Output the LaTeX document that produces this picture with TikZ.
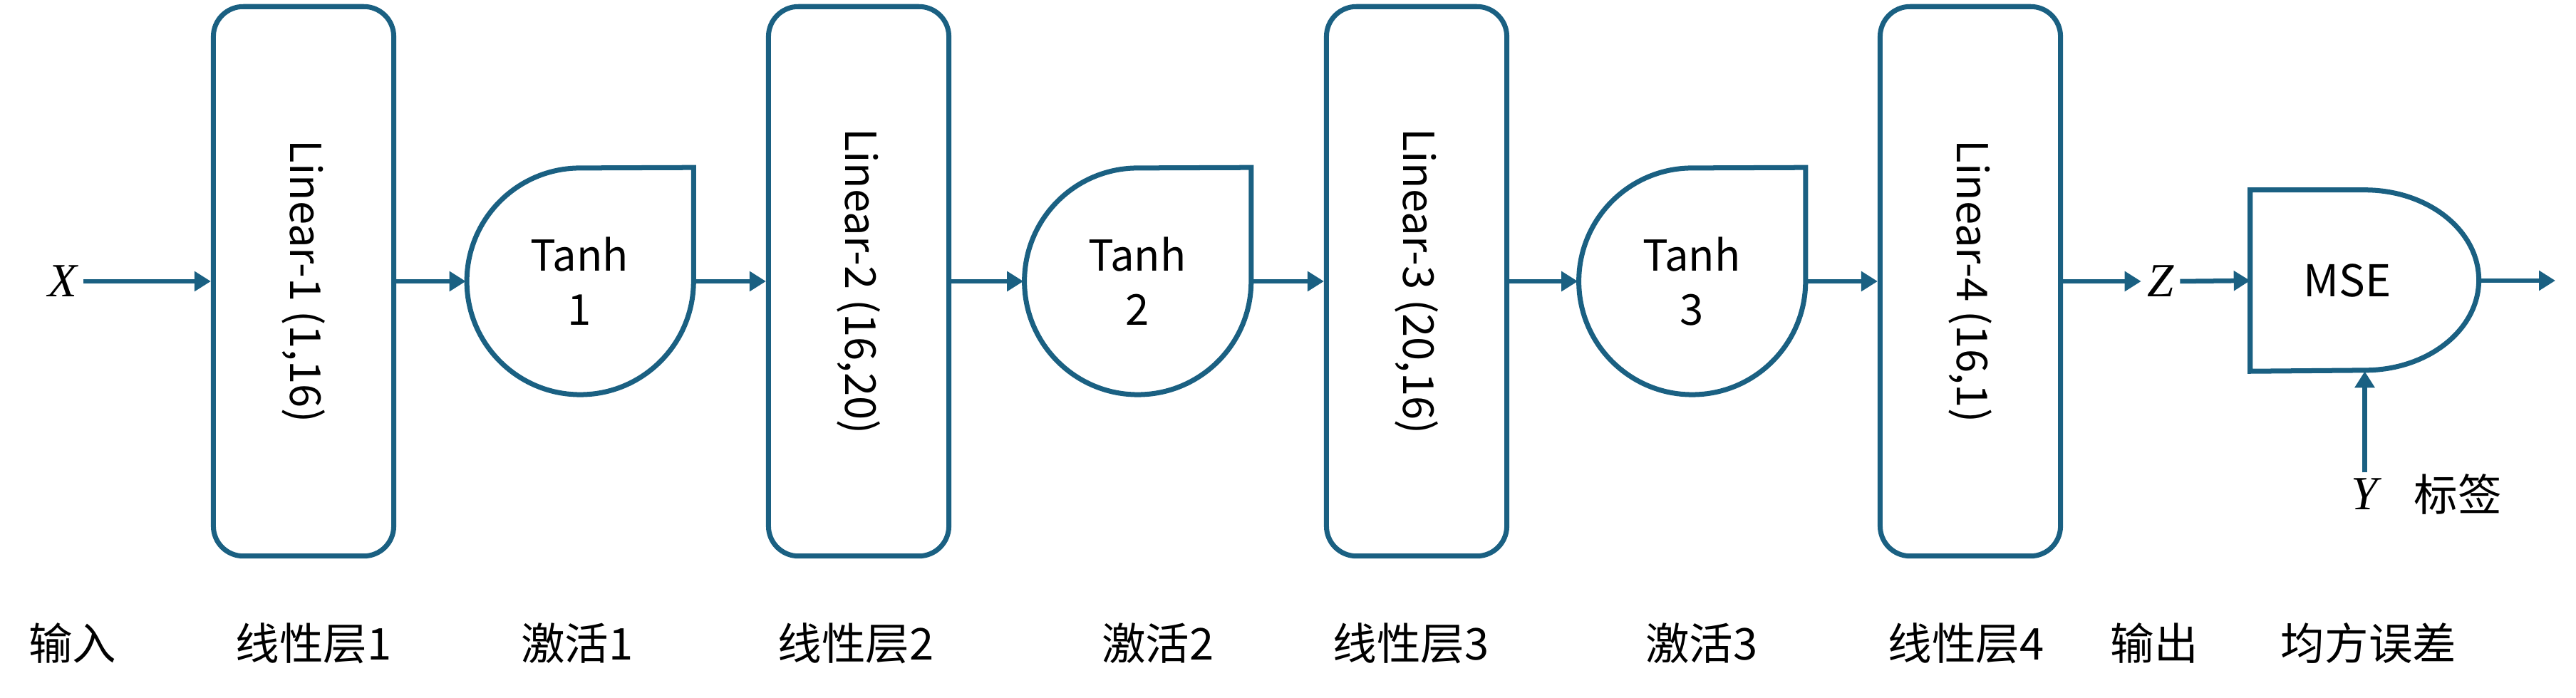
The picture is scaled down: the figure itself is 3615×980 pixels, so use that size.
\documentclass[tikz,border=0pt]{standalone}
\usepackage{fontspec}
\setmainfont{Noto Sans CJK SC}
\newfontfamily\varfont{Liberation Serif}
\usetikzlibrary{arrows.meta}
\definecolor{ink}{RGB}{26,96,130}
\begin{document}
\begin{tikzpicture}[x=0.01cm,y=0.01cm,
  shp/.style={draw=ink, line width=0.07cm, line join=miter},
  linbox/.style={shp, rounded corners=0.42cm, minimum width=2.53cm, minimum height=7.71cm, inner sep=0pt},
  lintext/.style={rotate=-90, font=\fontsize{17}{20}\selectfont, inner sep=0pt},
  tanhnode/.style={circle, minimum size=3.18cm, inner sep=0pt, align=center, font=\fontsize{17}{21.6}\selectfont},
  arr/.style={draw=ink, line width=0.065cm, -{Triangle[width=0.27cm,length=0.23cm]}},
  mathlbl/.style={inner sep=0.08cm, font=\varfont\itshape\fontsize{19}{20}\selectfont},
  lbl/.style={font=\fontsize{17.5}{20}\selectfont, inner sep=0pt},
]
\useasboundingbox (0,0) rectangle (3615,980);

% linear layers
\node[linbox] (L1) at (426,585) {};
\node[linbox] (L2) at (1205,585) {};
\node[linbox] (L3) at (1988,585) {};
\node[linbox] (L4) at (2765,585) {};
\node[lintext] (L1t) at (L1.center) {Linear-1 (1,16)};
\node[lintext] (L2t) at (L2.center) {Linear-2 (16,20)};
\node[lintext] (L3t) at (L3.center) {Linear-3 (20,16)};
\node[lintext] (L4t) at (L4.center) {Linear-4 (16,1)};

% tanh activations
\node[tanhnode] (T1) at (813.5,585) {Tanh\\1};
\node[tanhnode] (T2) at (1596,585) {Tanh\\2};
\node[tanhnode] (T3) at (2374,585) {Tanh\\3};
\foreach \t in {T1,T2,T3}{
  \draw[shp] (\t.east) arc[start angle=0, end angle=-270, radius=1.59cm] -- (\t.north -| \t.east) -- cycle;
}

% MSE
\node[minimum width=3.2cm, minimum height=2.53cm, inner sep=0pt] (M) at (3318.5,586) {};
\draw[shp] (M.north) arc[start angle=90, end angle=-90, x radius=1.6cm, y radius=1.265cm] -- (M.south west) -- (M.north west) -- cycle;
\node[font=\fontsize{17.5}{20}\selectfont, inner sep=0pt] (Mt) at (3294,586) {MSE};

% variables
\node[mathlbl] (X) at (88,585) {X};
\node[mathlbl] (Z) at (3032,585) {Z};
\node[mathlbl] (Y) at (3318.5,286) {Y};
\node[lbl] (Ylab) at (3449,286) {标签};
\coordinate (out) at (3586,586);

% connectors
\draw[arr] (X.east) -- (L1.west);
\draw[arr] (L1.east) -- (T1.west);
\draw[arr] (T1.east) -- (L2.west);
\draw[arr] (L2.east) -- (T2.west);
\draw[arr] (T2.east) -- (L3.west);
\draw[arr] (L3.east) -- (T3.west);
\draw[arr] (T3.east) -- (L4.west);
\draw[arr] (L4.east) -- (Z.west);
\draw[arr] (Z.east) -- (M.west);
\draw[arr] (M.east) -- (out);
\draw[arr] (Y.north) -- (M.south);

% bottom captions
\node[lbl] (c1) at (102,77) {输入};
\node[lbl] (c2) at (440,77) {线性层1};
\node[lbl] (c3) at (810,77) {激活1};
\node[lbl] (c4) at (1201,77) {线性层2};
\node[lbl] (c5) at (1625,77) {激活2};
\node[lbl] (c6) at (1980,77) {线性层3};
\node[lbl] (c7) at (2388,77) {激活3};
\node[lbl] (c8) at (2759,77) {线性层4};
\node[lbl] (c9) at (3023,77) {输出};
\node[lbl] (c10) at (3324,77) {均方误差};
\end{tikzpicture}
\end{document}
